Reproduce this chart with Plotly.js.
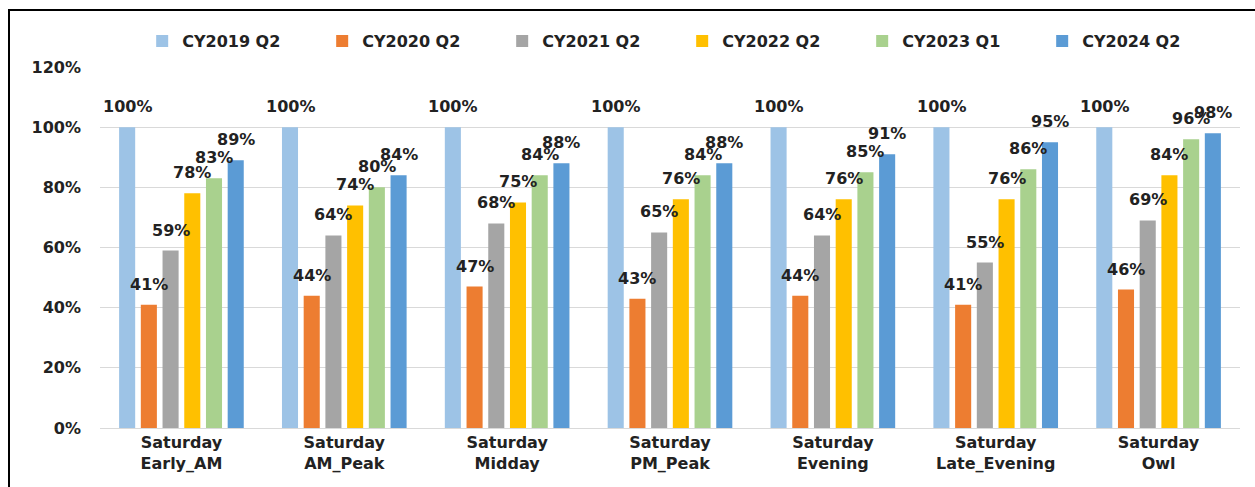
<!DOCTYPE html>
<html>
<head>
<meta charset="utf-8">
<script src="https://cdn.plot.ly/plotly-3.0.1.min.js"></script>
<style>
  html, body { margin: 0; padding: 0; background: #fff; }
  #wrap { position: relative; width: 1255px; height: 487px; overflow: hidden; }
  #chart { position: absolute; left: 0; top: 0; width: 1255px; height: 487px; }
  #frame { position: absolute; left: 8px; top: 9px; width: 1300px; height: 600px;
           border-top: 2px solid #000; border-left: 2px solid #000; pointer-events: none; }
</style>
</head>
<body>
<div id="wrap">
  <div id="chart"></div>
  <div id="frame"></div>
</div>
<script>
const categories = [
  "Saturday<br>Early_AM", "Saturday<br>AM_Peak", "Saturday<br>Midday",
  "Saturday<br>PM_Peak", "Saturday<br>Evening", "Saturday<br>Late_Evening",
  "Saturday<br>Owl"
];
const seriesNames = ["CY2019 Q2", "CY2020 Q2", "CY2021 Q2", "CY2022 Q2", "CY2023 Q1", "CY2024 Q2"];
const cy2019q2 = [100, 100, 100, 100, 100, 100, 100];
const cy2020q2 = [41, 44, 47, 43, 44, 41, 46];
const cy2021q2 = [59, 64, 68, 65, 64, 55, 69];
const cy2022q2 = [78, 74, 75, 76, 76, 76, 84];
const cy2023q1 = [83, 80, 84, 84, 85, 86, 96];
const cy2024q2 = [89, 84, 88, 88, 91, 95, 98];
const seriesValues = [cy2019q2, cy2020q2, cy2021q2, cy2022q2, cy2023q1, cy2024q2];
const colors = ["#9DC3E6", "#ED7D31", "#A5A5A5", "#FFC000", "#A9D18E", "#5B9BD5"];

const FONT = "DejaVu Sans, Arial, sans-serif";
const TXT = "#222222";
const bargap = 0.2;
const nSeries = seriesNames.length;
const slot = (1 - bargap) / nSeries;

const traces = seriesNames.map((name, j) => ({
  type: "bar",
  name: name,
  x: categories,
  y: seriesValues[j],
  marker: { color: colors[j] },
  hoverinfo: "none"
}));

const annotations = [];
seriesValues.forEach((vals, j) => {
  vals.forEach((v, i) => {
    annotations.push({
      x: i + (j - (nSeries - 1) / 2) * slot,
      y: v,
      xref: "x", yref: "y",
      text: v + "%",
      showarrow: false,
      yanchor: "bottom",
      xanchor: "center",
      yshift: 9,
      font: { family: FONT, size: 16, color: TXT, weight: "bold" }
    });
  });
});

const layout = {
  width: 1255, height: 487,
  margin: { l: 100, r: 15, t: 67, b: 59 },
  paper_bgcolor: "#fff",
  plot_bgcolor: "#fff",
  barmode: "group",
  bargap: bargap,
  bargroupgap: 0.26,
  font: { family: FONT, size: 16, color: TXT, weight: "bold" },
  showlegend: true,
  legend: {
    orientation: "h",
    x: 0.037, xanchor: "left",
    y: 1.025, yanchor: "bottom",
    entrywidth: 135, entrywidthmode: "pixels",
    font: { family: FONT, size: 16, color: TXT, weight: "bold" },
    bgcolor: "rgba(0,0,0,0)",
    itemclick: false
  },
  xaxis: {
    type: "category",
    showgrid: false,
    showline: true,
    linecolor: "#D9D9D9",
    linewidth: 1,
    ticks: "",
    tickfont: { family: FONT, size: 16, color: TXT, weight: "bold" },
    fixedrange: true
  },
  yaxis: {
    range: [0, 120],
    dtick: 20,
    tick0: 0,
    ticksuffix: "%",
    showgrid: true,
    gridcolor: "#D9D9D9",
    gridwidth: 1,
    zeroline: false,
    showline: false,
    ticks: "",
    ticklabelstandoff: 18,
    tickfont: { family: FONT, size: 16, color: TXT, weight: "bold" },
    fixedrange: true
  },
  annotations: annotations
};

Plotly.newPlot("chart", traces, layout, { displayModeBar: false, staticPlot: true });
</script>
</body>
</html>
